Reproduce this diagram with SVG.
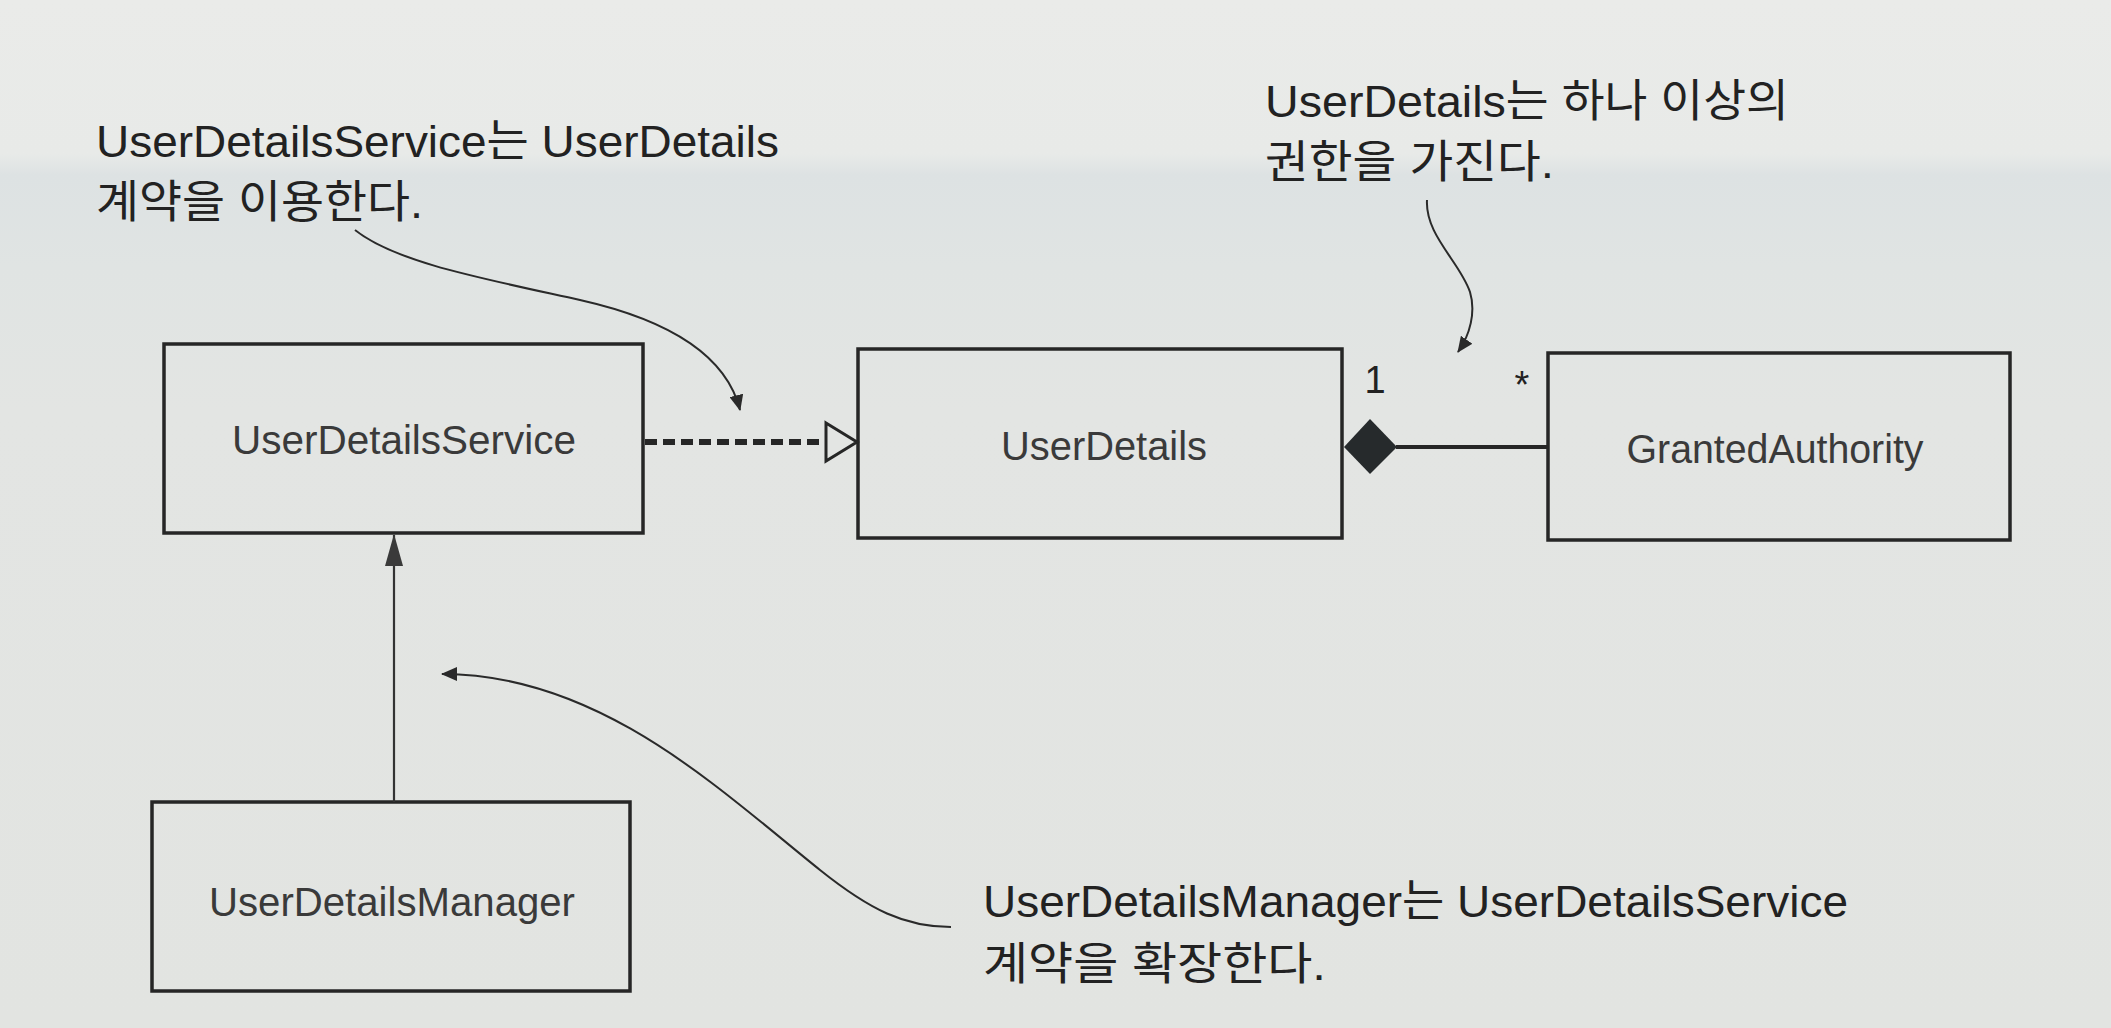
<svg xmlns="http://www.w3.org/2000/svg" width="2111" height="1028" viewBox="0 0 2111 1028">
  <defs>
    <linearGradient id="bg" x1="0" y1="0" x2="0" y2="1">
      <stop offset="0" stop-color="#eaebe9"/>
      <stop offset="0.15" stop-color="#e8eae8"/>
      <stop offset="0.17" stop-color="#dde2e3"/>
      <stop offset="0.26" stop-color="#e0e4e3"/>
      <stop offset="0.4" stop-color="#e3e5e3"/>
      <stop offset="1" stop-color="#e2e4e1"/>
    </linearGradient>
    <marker id="note" viewBox="0 0 16 14" refX="15" refY="7" markerWidth="16" markerHeight="14" markerUnits="userSpaceOnUse" orient="auto-start-reverse">
      <path d="M0,0 L16,7 L0,14 Z" fill="#2a2a2a"/>
    </marker>
    <marker id="gen" viewBox="0 0 32 20" refX="31" refY="10" markerWidth="32" markerHeight="20" markerUnits="userSpaceOnUse" orient="auto">
      <path d="M0,1 L32,10 L0,19 Z" fill="#3a3a3a"/>
    </marker>
  </defs>
  <style>
    .box { fill: none; stroke: #262626; stroke-width: 3.5; }
    .lbl { font-family: "Liberation Sans", Arial, "Noto Sans CJK KR", sans-serif; font-size: 40px; fill: #3a3a3a; text-anchor: middle; }
    .note { font-family: "Liberation Sans", Arial, "Noto Sans CJK KR", sans-serif; font-size: 45px; fill: #222; }
    .mult { font-family: "Liberation Sans", Arial, sans-serif; font-size: 38px; fill: #222; text-anchor: middle; }
    .thin { fill: none; stroke: #2a2a2a; stroke-width: 2; }
  </style>
  <rect x="0" y="0" width="2111" height="1028" fill="url(#bg)"/>

  <g id="node-userdetailsservice">
    <rect class="box" x="164" y="344" width="479" height="189"/>
    <text class="lbl" x="404" y="454" textLength="344" lengthAdjust="spacingAndGlyphs">UserDetailsService</text>
  </g>
  <g id="node-userdetails">
    <rect class="box" x="858" y="349" width="484" height="189"/>
    <text class="lbl" x="1104" y="460" textLength="206" lengthAdjust="spacingAndGlyphs">UserDetails</text>
  </g>
  <g id="node-grantedauthority">
    <rect class="box" x="1548" y="353" width="462" height="187"/>
    <text class="lbl" x="1775" y="463" textLength="297" lengthAdjust="spacingAndGlyphs">GrantedAuthority</text>
  </g>
  <g id="node-userdetailsmanager">
    <rect class="box" x="152" y="802" width="478" height="189"/>
    <text class="lbl" x="392" y="916" textLength="366" lengthAdjust="spacingAndGlyphs">UserDetailsManager</text>
  </g>

  <g id="connectors">
    <line x1="645" y1="442" x2="826" y2="442" stroke="#262626" stroke-width="6" stroke-dasharray="12 6"/>
    <path d="M826,423 L857,442 L826,461 Z" fill="#e3e5e3" stroke="#262626" stroke-width="3"/>
    <line x1="1396" y1="447" x2="1548" y2="447" stroke="#262626" stroke-width="4"/>
    <path d="M1344,447 L1370,419 L1397,447 L1370,474 Z" fill="#262a2c"/>
    <text class="mult" x="1375" y="393">1</text>
    <text class="mult" x="1522" y="398">*</text>
    <line x1="394" y1="802" x2="394" y2="535" stroke="#333" stroke-width="2.2" marker-end="url(#gen)"/>
    <path class="thin" d="M355,230 C395,262 480,278 580,300 C660,318 725,350 740,410" marker-end="url(#note)"/>
    <path class="thin" d="M1427,200 C1425,235 1460,262 1470,292 C1476,312 1470,335 1458,352" marker-end="url(#note)"/>
    <path class="thin" d="M442,674 C600,674 720,790 820,870 C870,910 905,927 951,927" marker-start="url(#note)"/>
  </g>

  <g id="note-uses">
    <text class="note" x="96" y="157" textLength="683" lengthAdjust="spacingAndGlyphs">UserDetailsService는 UserDetails</text>
    <text class="note" x="96" y="218" textLength="327" lengthAdjust="spacingAndGlyphs">계약을 이용한다.</text>
  </g>
  <g id="note-authorities">
    <text class="note" x="1265" y="117" textLength="524" lengthAdjust="spacingAndGlyphs">UserDetails는 하나 이상의</text>
    <text class="note" x="1265" y="178" textLength="289" lengthAdjust="spacingAndGlyphs">권한을 가진다.</text>
  </g>
  <g id="note-extends">
    <text class="note" x="983" y="917" textLength="865" lengthAdjust="spacingAndGlyphs">UserDetailsManager는 UserDetailsService</text>
    <text class="note" x="983" y="980" textLength="343" lengthAdjust="spacingAndGlyphs">계약을 확장한다.</text>
  </g>
</svg>
